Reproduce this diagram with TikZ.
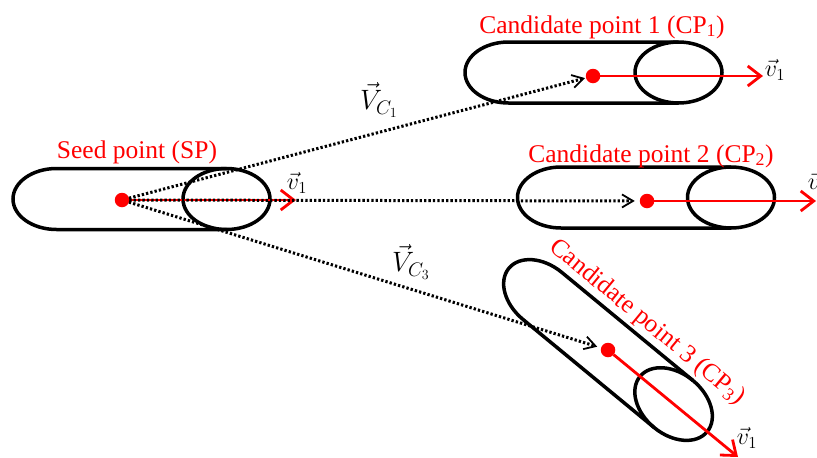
\RequirePackage{fix-cm}
\documentclass[tikz,border=0pt]{standalone}
\usepackage{fontspec}
\newfontfamily\labfont{Liberation Serif}
\usetikzlibrary{arrows.meta}

\tikzset{
  outline/.style={draw=black, line width=3.5pt},
  capsule/.pic={
    % body with a rounded left end and the end cap drawn as a full ellipse
    \draw[outline] (85pt,30.5pt) -- (-85pt,30.5pt)
      arc[start angle=90, end angle=270, x radius=43.5pt, y radius=30.5pt]
      -- (85pt,-30.5pt);
    \draw[outline] (85pt,0pt) ellipse[x radius=43.5pt, y radius=30.5pt];
  },
  pointdot/.style={circle, fill=red, minimum size=14.5pt, inner sep=0pt, outer sep=0pt},
  dirarrow/.style={draw=red, line width=2.8pt, -{Straight Barb[length=13pt, width=20pt]}},
  searcharrow/.style={draw=black, line width=3pt, dash pattern=on 2.3pt off 2.1pt,
    -{Straight Barb[length=11pt, width=13pt, line width=1.8pt]}, shorten >=1pt},
  lab/.style={text=red, font=\labfont\fontsize{25.5}{30}\selectfont, inner sep=0pt},
  mlab/.style={text=black, font=\fontsize{24}{28}\selectfont, inner sep=0pt},
  vlab/.style={text=black, font=\fontsize{28}{32}\selectfont, inner sep=0pt},
}

\begin{document}
\begin{tikzpicture}[x=1pt, y=-1pt]
  \useasboundingbox (0,0) rectangle (817,458);

  % tubes
  \pic at (141.5,199) {capsule};
  \pic at (593.5,72.5) {capsule};
  \pic at (646,197.5) {capsule};
  \pic[rotate=-39.5] at (608,350) {capsule};

  % seed and candidate points
  \node[pointdot] (sp)  at (122,200) {};
  \node[pointdot] (cp1) at (593,76) {};
  \node[pointdot] (cp2) at (647,201) {};
  \node[pointdot] (cp3) at (608,350) {};

  % ends of the direction vectors
  \coordinate (spv)  at (296,200);
  \coordinate (cp1v) at (763,76);
  \coordinate (cp2v) at (816,201);
  \coordinate (cp3v) at (738,457);

  % direction vectors
  \draw[dirarrow] (sp) -- (spv);
  \draw[dirarrow] (cp1) -- (cp1v);
  \draw[dirarrow] (cp2) -- (cp2v);
  \draw[dirarrow] (cp3) -- (cp3v);

  % vectors from the seed point to the candidates
  \draw[searcharrow] (sp) -- (cp1);
  \draw[searcharrow, shorten >=5pt] (sp) -- (cp2);
  \draw[searcharrow, shorten >=4pt] (sp) -- (cp3);

  % labels of the points
  \node[lab, anchor=base] (splab)  at (137,158) {Seed point (SP)};
  \node[lab, anchor=base] (cp1lab) at (602,33) {Candidate point 1 (CP\textsubscript{1})};
  \node[lab, anchor=base] (cp2lab) at (651,162) {Candidate point 2 (CP\textsubscript{2})};
  \node[lab, anchor=base, rotate=-39.5] (cp3lab) at (643,327) {Candidate point 3 (CP\textsubscript{3})};

  % vector labels
  \node[vlab] (vc1) at (379,100) {$\vec{V}_{C_1}$};
  \node[vlab] (vc3) at (411,262) {$\vec{V}_{C_3}$};
  \node[mlab] (spvlab)  at (297,183) {$\vec{v}_1$};
  \node[mlab] (cp1vlab) at (775,70) {$\vec{v}_1$};
  \node[mlab] (cp2vlab) at (818,183) {$\vec{v}_1$};
  \node[mlab] (cp3vlab) at (747,438) {$\vec{v}_1$};
\end{tikzpicture}
\end{document}
